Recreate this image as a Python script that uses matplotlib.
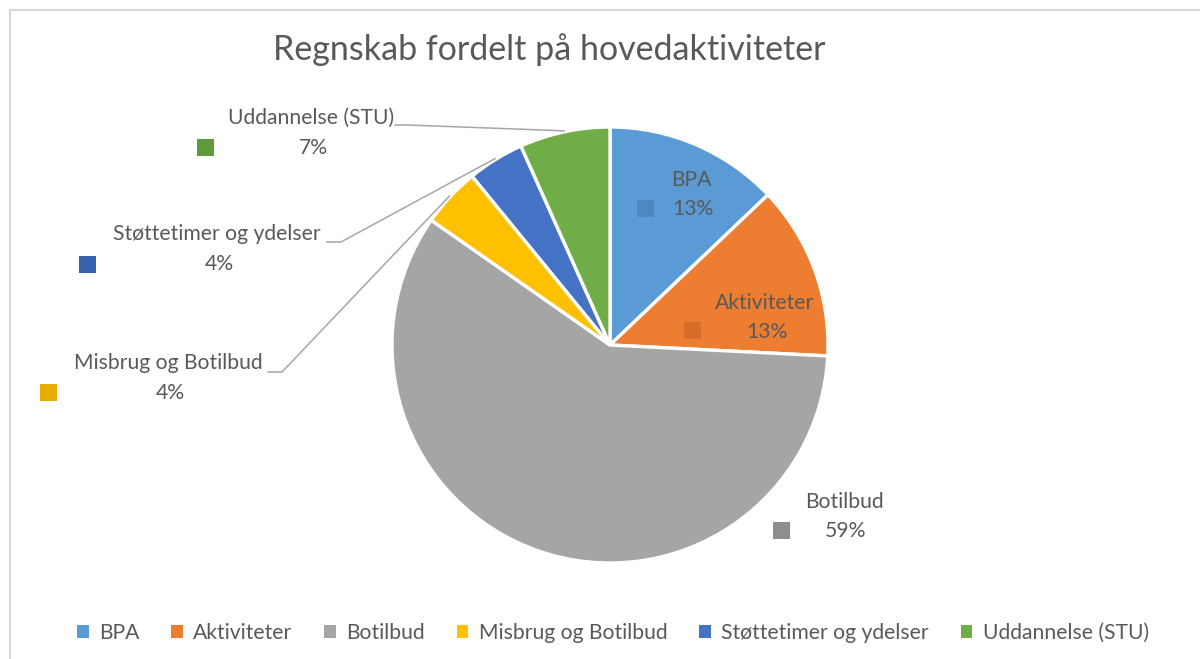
import numpy as np
import matplotlib.pyplot as plt
from matplotlib.patches import Rectangle, Patch

# Data
categories = ["BPA", "Aktiviteter", "Botilbud", "Misbrug og Botilbud",
              "Støttetimer og ydelser", "Uddannelse (STU)"]
shares = [12.9, 12.9, 58.9, 4.4, 4.2, 6.7]
pct_labels = ["13%", "13%", "59%", "4%", "4%", "7%"]
colors = ["#5B9BD5", "#ED7D31", "#A5A5A5", "#FFC000", "#4472C4", "#70AD47"]
key_colors = ["#4E88C0", "#D66D29", "#8E8E8E", "#E6AC00", "#3A63AF", "#5F9A3C"]

W, H = 1200, 659
txt = "#595959"
plt.rcParams['font.family'] = ['Lato', 'DejaVu Sans']

fig = plt.figure(figsize=(W / 100, H / 100), dpi=100)
ax = fig.add_axes([0, 0, 1, 1])

# pie in pixel coordinates (y measured from top of picture)
cx, cy, R = 610, 345, 218
wedges, _ = ax.pie(shares, colors=colors, startangle=90, counterclock=False,
                   center=(cx, H - cy), radius=R,
                   wedgeprops=dict(edgecolor='white', linewidth=2.4))
ax.set_xlim(0, W)
ax.set_ylim(0, H)
ax.set_aspect('equal')
ax.axis('off')

# data labels: text centre x, name y, percent y, key x, key y
label_pos = [
    (691, 180, 209, 645, 208),
    (765, 303, 332, 692, 330),
    (844, 502, 531, 781, 530),
    (168, 363, 393, 48, 392),
    (217, 234, 264, 87, 264),
    (311, 118, 148, 205, 147),
]
fs = 15.2
for i, (tx, ny, py, kx, ky) in enumerate(label_pos):
    ax.text(tx, H - ny, categories[i], ha='center', va='center', fontsize=fs, color=txt)
    ax.text(tx + 2, H - py, pct_labels[i], ha='center', va='center', fontsize=fs, color=txt)
    ax.add_patch(Rectangle((kx - 8.5, H - ky - 8.5), 17, 17, color=key_colors[i], lw=0))

# leader lines for the small outside labels
anchors = {3: (268, 282, 372), 4: (327, 341, 242), 5: (395, 408, 125)}
cum = np.cumsum([0] + shares)
for i, (x0, x1, y0) in anchors.items():
    mid = np.deg2rad(90 - 360 * (cum[i] + shares[i] / 2) / 100)
    ex = cx + (R + 1) * np.cos(mid)
    ey = (H - cy) + (R + 1) * np.sin(mid)
    ax.plot([x0, x1, ex], [H - y0, H - y0, ey], color='#A6A6A6', lw=1.1)

# title
fig.text(549 / W, 1 - 50 / H, "Regnskab fordelt på hovedaktiviteter",
         ha='center', va='center', fontsize=24.5, color=txt)

# legend
handles = [Patch(facecolor=c, edgecolor='none') for c in colors]
fig.legend(handles=handles, labels=categories, loc='center',
           bbox_to_anchor=(613 / W, 1 - 633 / H), ncol=6, frameon=False,
           fontsize=fs, labelcolor=txt, handlelength=0.55, handleheight=0.55,
           handletextpad=0.5, columnspacing=1.5)

# chart area border
fig.add_artist(Rectangle((9.5 / W, -0.1), 1.2, 1.1 - 10 / H, transform=fig.transFigure,
                         fill=False, edgecolor='#D9D9D9', lw=1.5))

fig.savefig("out.png", dpi=100)
